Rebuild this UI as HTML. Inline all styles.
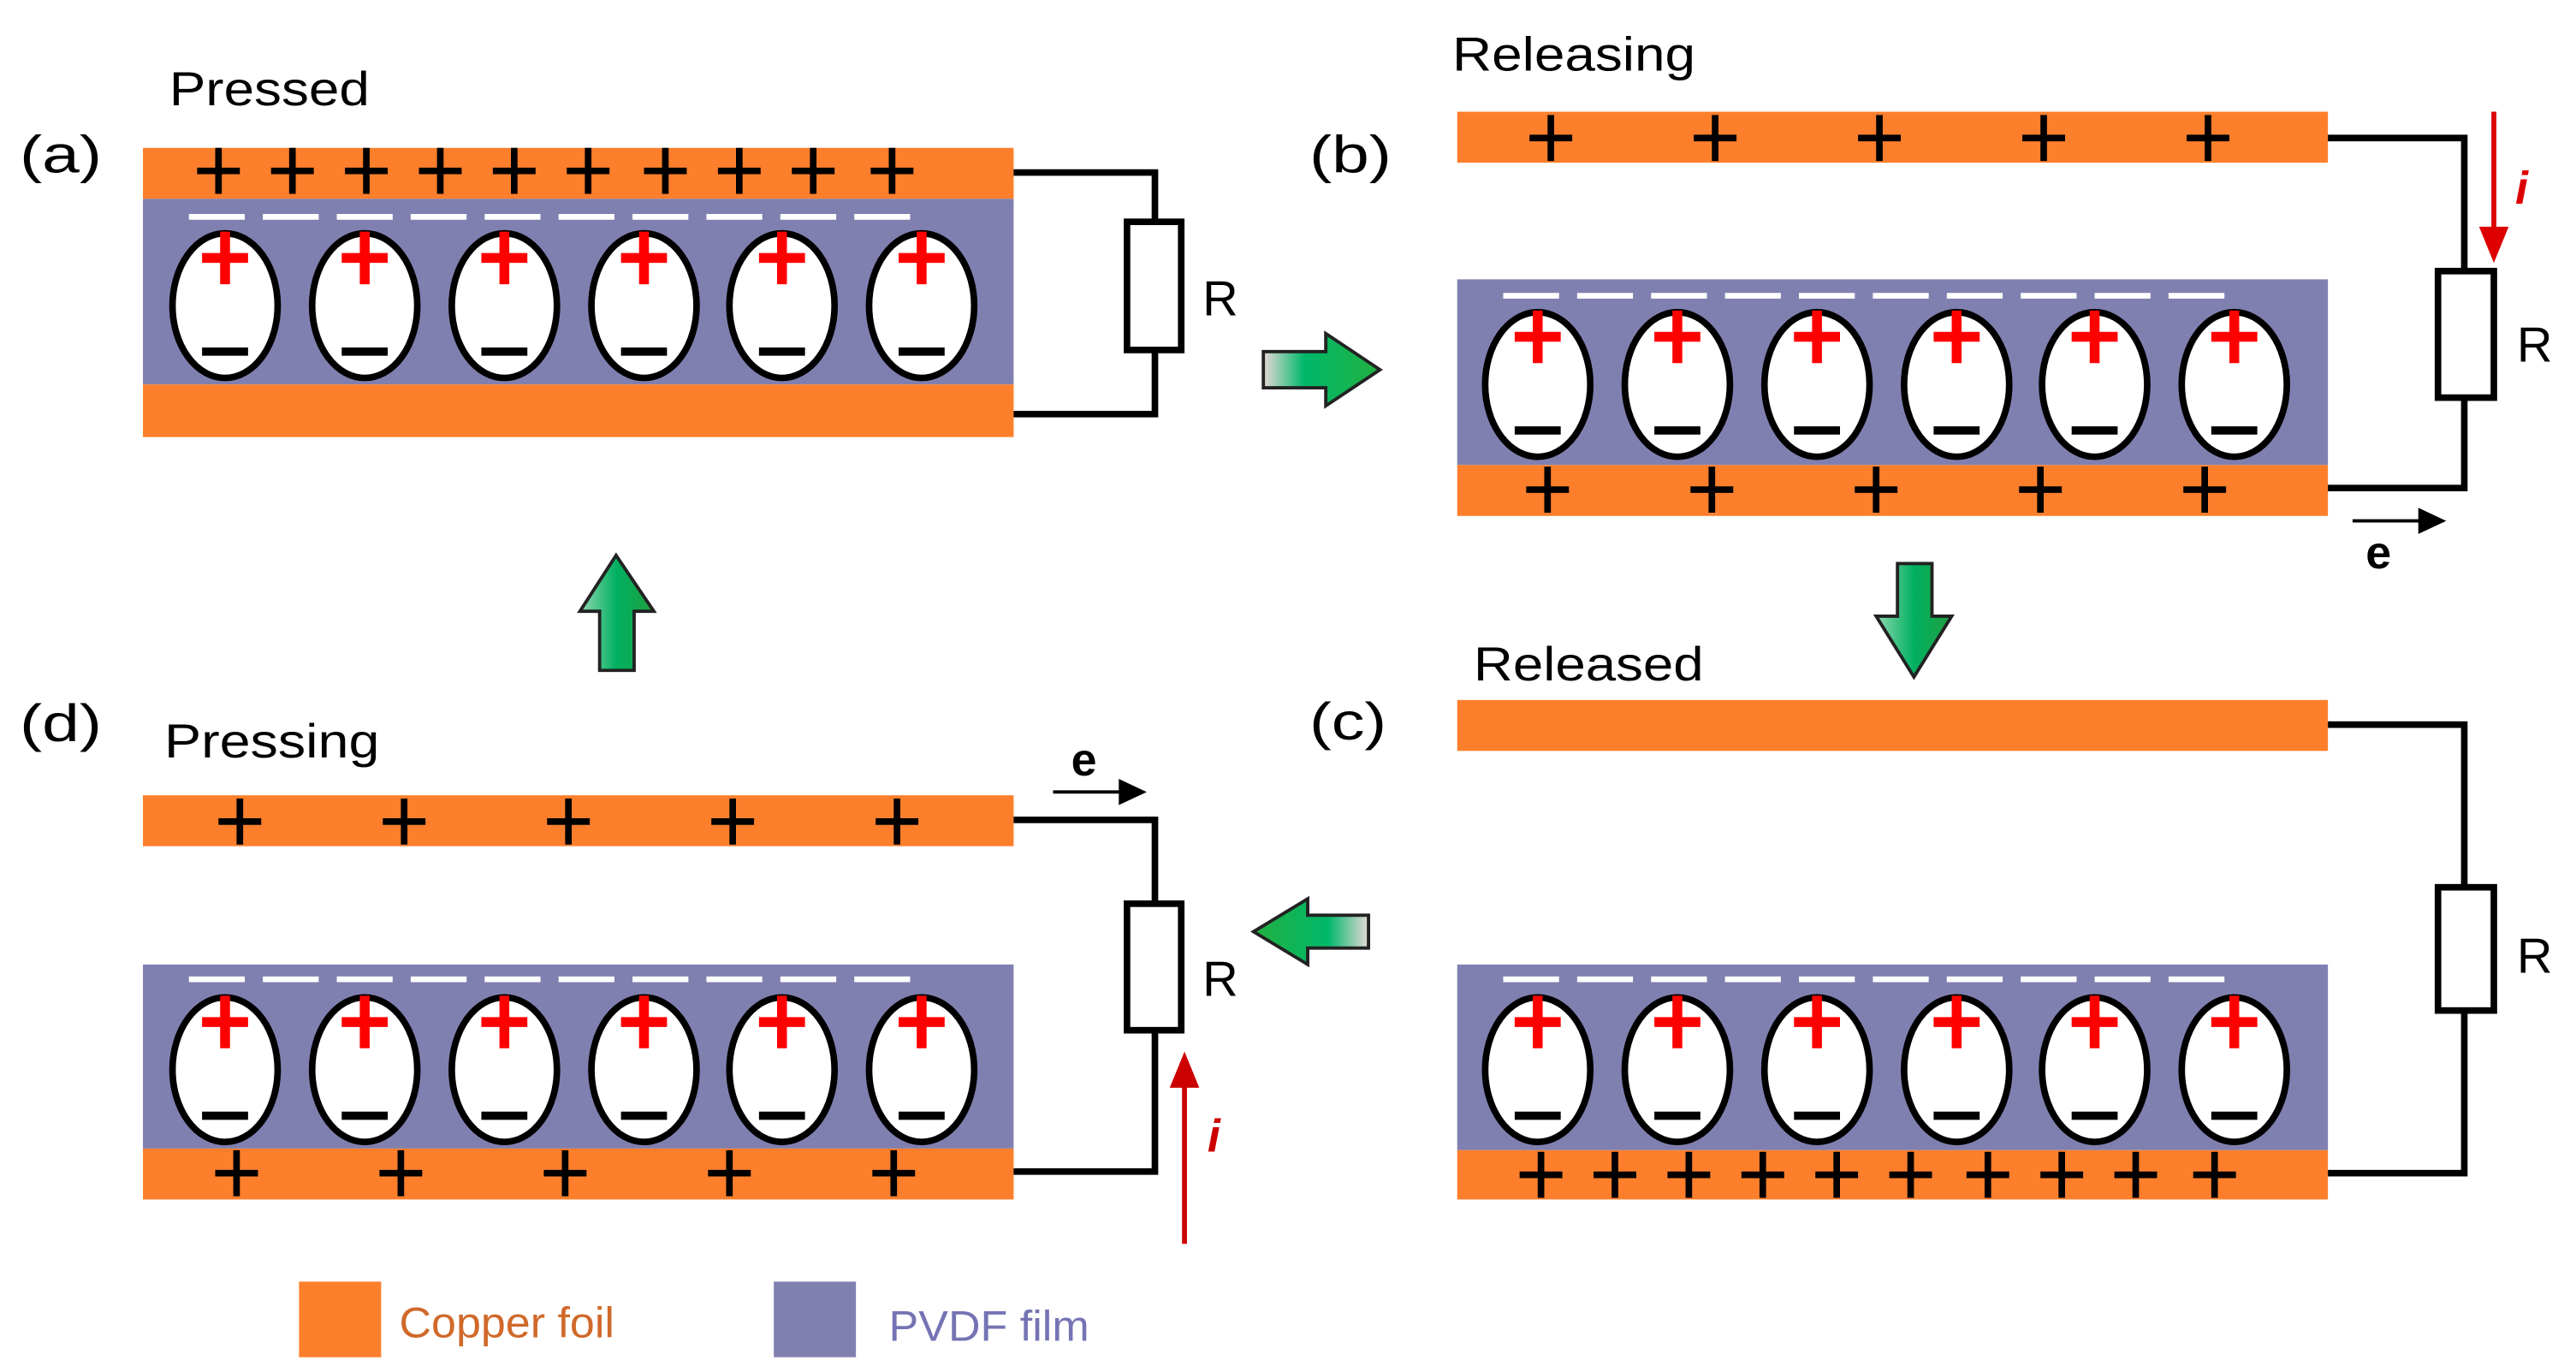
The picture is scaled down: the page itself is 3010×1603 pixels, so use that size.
<!DOCTYPE html>
<html><head><style>html,body{margin:0;padding:0;background:#fff}svg{display:block}</style></head>
<body>
<svg width="3010" height="1603" viewBox="0 0 1568 835" preserveAspectRatio="none" xmlns="http://www.w3.org/2000/svg" font-family="Liberation Sans, sans-serif">
<defs>
<g id="cell">
<ellipse cx="0" cy="0" rx="32" ry="44" fill="#fff" stroke="#000" stroke-width="4"/>
<path d="M0,-45 V-13 M-14,-29 H14" stroke="#f00" stroke-width="6"/>
<path d="M-14,28 H14" stroke="#000" stroke-width="5"/>
</g>
<g id="bp"><path d="M0,-14 V14 M-13,0 H13" stroke="#000" stroke-width="4"/></g>
<g id="cells">
<use href="#cell" x="0"/><use href="#cell" x="85"/><use href="#cell" x="170"/><use href="#cell" x="255"/><use href="#cell" x="339"/><use href="#cell" x="424"/>
</g>
<g id="dash"><path d="M28,0 H473" stroke="#fff" stroke-width="3.5" stroke-dasharray="34,11"/></g>
<linearGradient id="gh" x1="0" x2="1" y1="0" y2="0"><stop offset="0" stop-color="#e8d8d8"/><stop offset="0.35" stop-color="#00b86a"/><stop offset="1" stop-color="#22b040"/></linearGradient>
<linearGradient id="ghl" x1="1" x2="0" y1="0" y2="0"><stop offset="0" stop-color="#e8d8d8"/><stop offset="0.35" stop-color="#00b86a"/><stop offset="1" stop-color="#22b040"/></linearGradient>
<linearGradient id="gv" x1="0" x2="1" y1="0" y2="0"><stop offset="0" stop-color="#8fd8b0"/><stop offset="0.5" stop-color="#00b060"/><stop offset="1" stop-color="#20a040"/></linearGradient>
</defs>

<!-- Panel a -->
<text x="12" y="105" font-size="32" textLength="50" lengthAdjust="spacingAndGlyphs">(a)</text>
<text x="103" y="64" font-size="29" textLength="122" lengthAdjust="spacingAndGlyphs">Pressed</text>
<rect x="87" y="90" width="530" height="31" fill="#fd7f2c"/>
<rect x="87" y="121" width="530" height="113" fill="#8080b0"/>
<rect x="87" y="234" width="530" height="32" fill="#fd7f2c"/>
<g transform="translate(87,132)"><use href="#dash"/></g>
<g transform="translate(137,186)"><use href="#cells"/></g>
<use href="#bp" x="133" y="104"/><use href="#bp" x="178" y="104"/><use href="#bp" x="223" y="104"/><use href="#bp" x="268" y="104"/><use href="#bp" x="313" y="104"/><use href="#bp" x="358" y="104"/><use href="#bp" x="405" y="104"/><use href="#bp" x="450" y="104"/><use href="#bp" x="495" y="104"/><use href="#bp" x="543" y="104"/>
<path d="M617,105 H703 V135 M703,213 V252 H617" fill="none" stroke="#000" stroke-width="4"/>
<rect x="686" y="135" width="33" height="78" fill="#fff" stroke="#000" stroke-width="4"/>
<text x="732" y="192" font-size="30">R</text>

<!-- Panel b -->
<text x="797" y="105" font-size="32" textLength="50" lengthAdjust="spacingAndGlyphs">(b)</text>
<text x="884" y="43" font-size="29" textLength="148" lengthAdjust="spacingAndGlyphs">Releasing</text>
<rect x="887" y="68" width="530" height="31" fill="#fd7f2c"/>
<rect x="887" y="170" width="530" height="113" fill="#8080b0"/>
<rect x="887" y="283" width="530" height="31" fill="#fd7f2c"/>
<g transform="translate(887,180)"><use href="#dash"/></g>
<g transform="translate(936,234)"><use href="#cells"/></g>
<use href="#bp" x="944" y="84"/><use href="#bp" x="1044" y="84"/><use href="#bp" x="1144" y="84"/><use href="#bp" x="1244" y="84"/><use href="#bp" x="1344" y="84"/>
<use href="#bp" x="942" y="298"/><use href="#bp" x="1042" y="298"/><use href="#bp" x="1142" y="298"/><use href="#bp" x="1242" y="298"/><use href="#bp" x="1342" y="298"/>
<path d="M1417,84 H1500 V165 M1500,242 V297 H1417" fill="none" stroke="#000" stroke-width="4"/>
<rect x="1484" y="165" width="34" height="77" fill="#fff" stroke="#000" stroke-width="4"/>
<text x="1532" y="220" font-size="30">R</text>
<path d="M1518,68 V140" stroke="#d00" stroke-width="3"/>
<path d="M1509,138 L1527,138 L1518,160 Z" fill="#d00"/>
<text x="1531" y="124" font-size="28" font-style="italic" font-weight="bold" fill="#d00">i</text>
<path d="M1432,317 H1475" stroke="#000" stroke-width="2"/>
<path d="M1472,309 L1489,317 L1472,325 Z" fill="#000"/>
<text x="1440" y="346" font-size="28" font-weight="bold">e</text>

<!-- Panel c -->
<text x="797" y="450" font-size="32" textLength="47" lengthAdjust="spacingAndGlyphs">(c)</text>
<text x="897" y="414" font-size="29" textLength="140" lengthAdjust="spacingAndGlyphs">Released</text>
<rect x="887" y="426" width="530" height="31" fill="#fd7f2c"/>
<rect x="887" y="587" width="530" height="113" fill="#8080b0"/>
<rect x="887" y="700" width="530" height="30" fill="#fd7f2c"/>
<g transform="translate(887,596)"><use href="#dash"/></g>
<g transform="translate(936,651)"><use href="#cells"/></g>
<use href="#bp" x="938" y="715"/><use href="#bp" x="983" y="715"/><use href="#bp" x="1028" y="715"/><use href="#bp" x="1073" y="715"/><use href="#bp" x="1118" y="715"/><use href="#bp" x="1163" y="715"/><use href="#bp" x="1210" y="715"/><use href="#bp" x="1255" y="715"/><use href="#bp" x="1300" y="715"/><use href="#bp" x="1348" y="715"/>
<path d="M1417,441 H1500 V540 M1500,615 V714 H1417" fill="none" stroke="#000" stroke-width="4"/>
<rect x="1484" y="540" width="34" height="75" fill="#fff" stroke="#000" stroke-width="4"/>
<text x="1532" y="592" font-size="30">R</text>

<!-- Panel d -->
<text x="12" y="451" font-size="32" textLength="50" lengthAdjust="spacingAndGlyphs">(d)</text>
<text x="100" y="461" font-size="29" textLength="131" lengthAdjust="spacingAndGlyphs">Pressing</text>
<rect x="87" y="484" width="530" height="31" fill="#fd7f2c"/>
<rect x="87" y="587" width="530" height="112" fill="#8080b0"/>
<rect x="87" y="699" width="530" height="31" fill="#fd7f2c"/>
<g transform="translate(87,596)"><use href="#dash"/></g>
<g transform="translate(137,651)"><use href="#cells"/></g>
<use href="#bp" x="146" y="500"/><use href="#bp" x="246" y="500"/><use href="#bp" x="346" y="500"/><use href="#bp" x="446" y="500"/><use href="#bp" x="546" y="500"/>
<use href="#bp" x="144" y="714"/><use href="#bp" x="244" y="714"/><use href="#bp" x="344" y="714"/><use href="#bp" x="444" y="714"/><use href="#bp" x="544" y="714"/>
<path d="M617,499 H703 V550 M703,627 V713 H617" fill="none" stroke="#000" stroke-width="4"/>
<rect x="686" y="550" width="33" height="77" fill="#fff" stroke="#000" stroke-width="4"/>
<text x="732" y="606" font-size="30">R</text>
<path d="M641,482 H684" stroke="#000" stroke-width="2"/>
<path d="M681,474 L698,482 L681,490 Z" fill="#000"/>
<text x="652" y="472" font-size="28" font-weight="bold">e</text>
<path d="M721,757 V660" stroke="#c00" stroke-width="3"/>
<path d="M712,662 L730,662 L721,640 Z" fill="#c00"/>
<text x="735" y="701" font-size="28" font-style="italic" font-weight="bold" fill="#c00">i</text>

<!-- Green arrows -->
<path d="M769,214 H807 V203 L840,225 L807,247 V236 H769 Z" fill="url(#gh)" stroke="#222" stroke-width="2"/>
<path d="M833,557 H796 V547 L763,567 L796,587 V577 H833 Z" fill="url(#ghl)" stroke="#222" stroke-width="2"/>
<path d="M1155,343 H1176 V375 H1188 L1165,412 L1142,375 H1155 Z" fill="url(#gv)" stroke="#222" stroke-width="2"/>
<path d="M365,408 H386 V372 H398 L375,338 L353,372 H365 Z" fill="url(#gv)" stroke="#222" stroke-width="2"/>

<!-- Legend -->
<rect x="182" y="780" width="50" height="46" fill="#fd7f2c"/>
<text x="243" y="814" font-size="26" fill="#d0692a" textLength="131" lengthAdjust="spacingAndGlyphs">Copper foil</text>
<rect x="471" y="780" width="50" height="46" fill="#8080b0"/>
<text x="541" y="816" font-size="26" fill="#7474b4" textLength="122" lengthAdjust="spacingAndGlyphs">PVDF film</text>
</svg>
</body></html>
